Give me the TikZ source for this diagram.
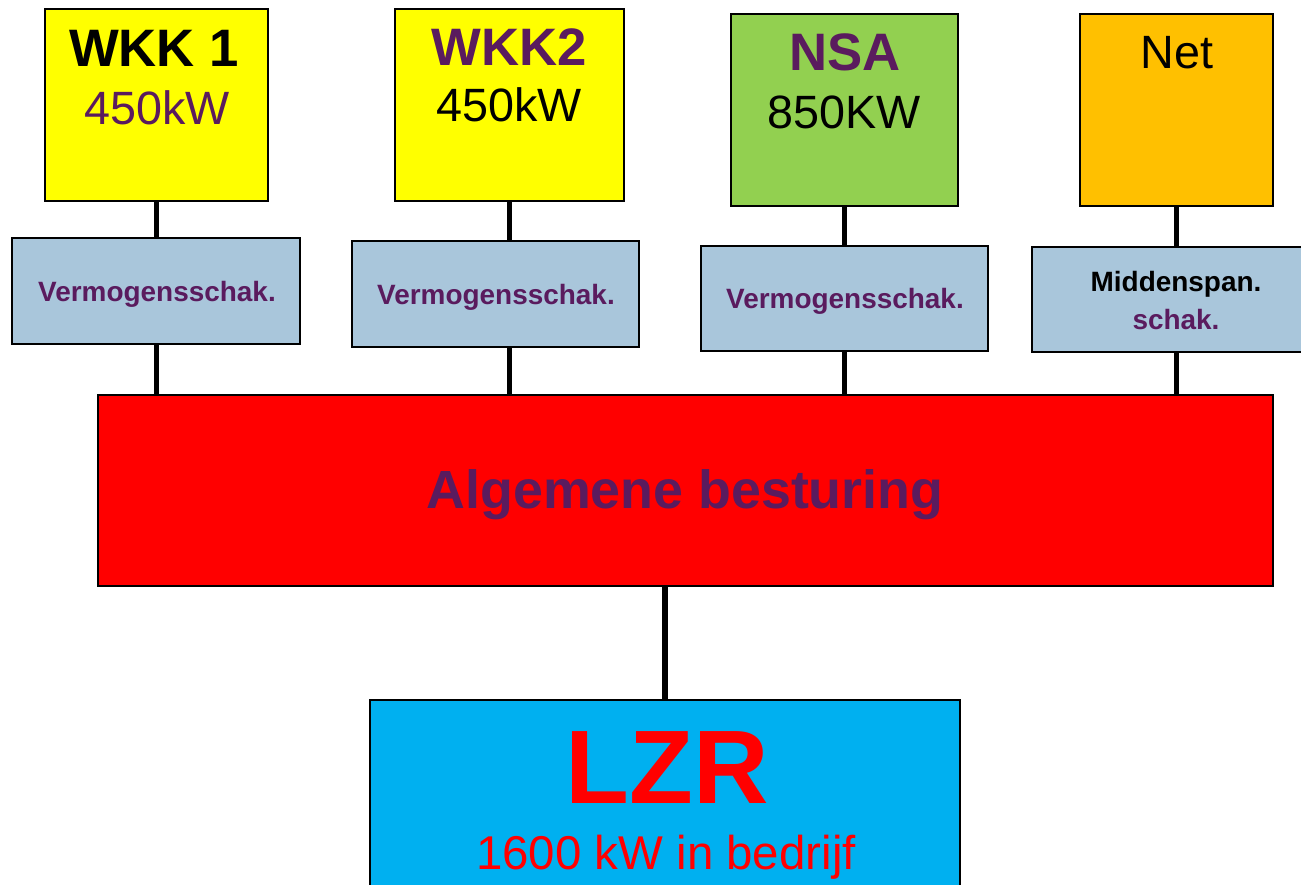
\documentclass[tikz,border=0pt]{standalone}
\usepackage{fontspec}
\setmainfont{Liberation Sans}
\definecolor{vpurple}{HTML}{5A1B5E}
\definecolor{vyellow}{HTML}{FFFF00}
\definecolor{vgreen}{HTML}{92D050}
\definecolor{vorange}{HTML}{FFC000}
\definecolor{vlblue}{HTML}{A9C6DB}
\definecolor{vred}{HTML}{FF0000}
\definecolor{vcyan}{HTML}{00B0F0}
\tikzset{
  box/.style={draw=black, line width=1.1pt, inner sep=0pt, rectangle},
  conn/.style={draw=black, line width=2.9pt},
  titletxt/.style={inner sep=0pt, font=\fontsize{30}{34}\selectfont\bfseries},
  valtxt/.style={inner sep=0pt, font=\fontsize{26.6}{30}\selectfont},
  smalltxt/.style={inner sep=0pt, align=center, font=\fontsize{15.9}{19.8}\selectfont\bfseries},
}
\begin{document}
\begin{tikzpicture}[x=0.02cm, y=-0.02cm]
\useasboundingbox (0,0) rectangle (1301,885);
\clip (0,0) rectangle (1301,885);
% top boxes
\node[box, fill=vyellow, minimum width=223*0.02cm, minimum height=192*0.02cm] (wkk1) at (156.5,105) {};
\node[box, fill=vyellow, minimum width=229*0.02cm, minimum height=192*0.02cm] (wkk2) at (509.5,105) {};
\node[box, fill=vgreen, minimum width=227*0.02cm, minimum height=192*0.02cm] (nsa) at (844.5,110) {};
\node[box, fill=vorange, minimum width=193*0.02cm, minimum height=192*0.02cm] (net) at (1176.5,110) {};
% switch boxes
\node[box, fill=vlblue, minimum width=288*0.02cm, minimum height=106*0.02cm] (s1) at (156,291) {};
\node[box, fill=vlblue, minimum width=287*0.02cm, minimum height=106*0.02cm] (s2) at (495.5,294) {};
\node[box, fill=vlblue, minimum width=287*0.02cm, minimum height=105*0.02cm] (s3) at (844.5,298.5) {};
\node[box, fill=vlblue, minimum width=290*0.02cm, minimum height=105*0.02cm] (s4) at (1177,299.5) {};
% control
\node[box, fill=vred, minimum width=1175*0.02cm, minimum height=191*0.02cm] (alg) at (685.5,490.5) {};
% LZR
\node[box, fill=vcyan, minimum width=590*0.02cm, minimum height=220*0.02cm] (lzr) at (665,810) {};
% connectors
\draw[conn] (wkk1.south) -- (wkk1.south |- s1.north);
\draw[conn] (wkk1.south |- s1.south) -- (wkk1.south |- alg.north);
\draw[conn] (wkk2.south) -- (wkk2.south |- s2.north);
\draw[conn] (wkk2.south |- s2.south) -- (wkk2.south |- alg.north);
\draw[conn] (nsa.south) -- (s3.north);
\draw[conn] (s3.south) -- (s3.south |- alg.north);
\draw[conn] (net.south) -- (net.south |- s4.north);
\draw[conn] (net.south |- s4.south) -- (net.south |- alg.north);
\draw[conn] (lzr.north |- alg.south) -- (lzr.north);
% texts
\node[titletxt, text=black] (t1) at (154,48) {WKK 1};
\node[valtxt, text=vpurple] (v1) at (157,108) {450kW};
\node[titletxt, text=vpurple] (t2) at (509,47) {WKK2};
\node[valtxt, text=black] (v2) at (509,105) {450kW};
\node[titletxt, text=vpurple] (t3) at (845,52) {NSA};
\node[valtxt, text=black] (v3) at (844,112) {850KW};
\node[valtxt, text=black] (t4) at (1177,53) {Net};
\node[smalltxt, text=vpurple] (l1) at (157,294) {Vermogensschak.};
\node[smalltxt, text=vpurple] (l2) at (496,297) {Vermogensschak.};
\node[smalltxt, text=vpurple] (l3) at (845,301) {Vermogensschak.};
\node[smalltxt, text=black] (l4a) at (1176,284) {Middenspan.};
\node[smalltxt, text=vpurple] (l4b) at (1176,320) {schak.};
\node[inner sep=0pt, text=vpurple, font=\fontsize{30.6}{34}\selectfont\bfseries] (at) at (685,495) {Algemene besturing};
\node[inner sep=0pt, text=vred, font=\fontsize{59.5}{64}\selectfont\bfseries] (lt) at (667,768) {LZR};
\node[inner sep=0pt, text=vred, font=\fontsize{27}{30}\selectfont] (ls) at (666,857) {1600 kW in bedrijf};
\end{tikzpicture}
\end{document}
